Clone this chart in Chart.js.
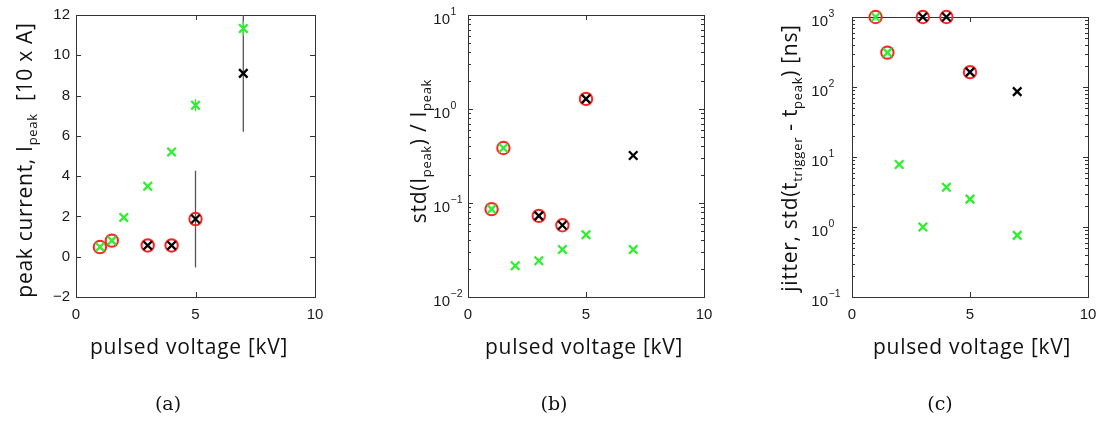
<!DOCTYPE html>
<html lang="en">
<head>
<meta charset="UTF-8">
<title>Peak current, spread and jitter vs pulsed voltage</title>
<script src="https://cdn.jsdelivr.net/npm/chart.js"></script>
<style>
  body { margin: 0; background: #fff; width: 1107px; height: 424px; overflow: hidden; position: relative; }
  canvas { position: absolute; top: 0; }
</style>
</head>
<body>
<canvas id="chartA" width="370" height="424" style="left:0"></canvas>
<canvas id="chartB" width="370" height="424" style="left:370px"></canvas>
<canvas id="chartC" width="367" height="424" style="left:740px"></canvas>

<script>
// ---- data ----
const voltage = [1, 1.5, 2, 3, 4, 5, 7];        // green series, all voltages
const blackVoltage = [3, 4, 5, 7];               // black series
const circleVoltage = [1, 1.5, 3, 4, 5];         // red-circled points

// (a) peak current [10 x A]
const peakGreen = [0.48, 0.8, 1.95, 3.5, 5.2, 7.52, 11.33];
const peakGreenErr = [0, 0, 0, 0, 0, 0.3, 0.35];
const peakBlack = [0.56, 0.56, 1.87, 9.1];
const peakBlackErr = [0, 0, 2.4, 2.9];
const peakCircle = [0.48, 0.8, 0.56, 0.56, 1.87];

// (b) std(Ipeak)/Ipeak
const spreadGreen = [0.086, 0.385, 0.0215, 0.0243, 0.032, 0.046, 0.032];
const spreadBlack = [0.073, 0.058, 1.28, 0.32];
const spreadCircle = [0.086, 0.385, 0.073, 0.058, 1.28];

// (c) jitter [ns]
const jitterGreen = [1000, 310, 7.8, 1.0, 3.7, 2.5, 0.76];
const jitterBlack = [1000, 1000, 163, 86];
const jitterCircle = [1000, 310, 1000, 1000, 163];

// ticks
const voltageTicks = [0, 5, 10];
const peakTicks = [-2, 0, 2, 4, 6, 8, 10, 12];
const spreadDecades = [0.01, 0.1, 1, 10];
const jitterDecades = [0.1, 1, 10, 100, 1000];

const GREEN = '#2bf02b';
const RED = '#ff2222';
const TITLE_FONT = '21px "Open Sans"';
const SUB_FONT = '13px "Open Sans"';
const TICK_FAMILY = 'Liberation Sans';

function pts(xs, ys) { return xs.map((x, i) => ({ x: x, y: ys[i] })); }

function errorBars(xs, ys, errs, color) {
  const out = [];
  xs.forEach((x, i) => {
    if (!errs[i]) return;
    out.push({
      type: 'line',
      data: [{ x: x, y: ys[i] - errs[i] }, { x: x, y: ys[i] + errs[i] }],
      borderColor: color, borderWidth: 1.3, pointRadius: 0, showLine: true
    });
  });
  return out;
}

function markerSets(gy, by, cy) {
  return [
    { data: pts(voltage, gy), pointStyle: 'crossRot', pointRadius: 6, pointBorderWidth: 2.3,
      pointBorderColor: GREEN, pointBackgroundColor: GREEN, clip: false },
    { data: pts(blackVoltage, by), pointStyle: 'crossRot', pointRadius: 6, pointBorderWidth: 2.3,
      pointBorderColor: '#000', pointBackgroundColor: '#000', clip: false },
    { data: pts(circleVoltage, cy), pointStyle: 'circle', pointRadius: 6.2, pointBorderWidth: 2,
      pointBorderColor: RED, pointBackgroundColor: 'rgba(0,0,0,0)', clip: false }
  ];
}

function logTicks(decades) {
  const t = [];
  decades.forEach((d, i) => {
    const last = i === decades.length - 1;
    for (let k = 1; k <= (last ? 1 : 9); k++) t.push({ value: +(k * d).toPrecision(3) });
  });
  return t;
}

function exponentOf(v) {
  const e = Math.log10(v);
  return Math.abs(e - Math.round(e)) < 1e-6 ? Math.round(e) : null;
}

// frame with inward ticks on all four sides, plus "10^n" labels for log axes
const frame = {
  id: 'frame',
  beforeDatasetsDraw(chart, args, o) {
    const { ctx, chartArea: a, scales } = chart;
    ctx.save();
    ctx.strokeStyle = '#333';
    ctx.lineWidth = 1;
    ctx.strokeRect(Math.round(a.left) + 0.5, Math.round(a.top) + 0.5,
      Math.round(a.right - a.left), Math.round(a.bottom - a.top));
    ctx.beginPath();
    scales.x.ticks.forEach(t => {
      const px = Math.round(scales.x.getPixelForValue(t.value)) + 0.5;
      ctx.moveTo(px, a.bottom); ctx.lineTo(px, a.bottom - 5);
      ctx.moveTo(px, a.top); ctx.lineTo(px, a.top + 5);
    });
    const isLog = scales.y.type === 'logarithmic';
    scales.y.ticks.forEach(t => {
      const py = Math.round(scales.y.getPixelForValue(t.value)) + 0.5;
      const len = (!isLog || exponentOf(t.value) !== null) ? 5 : 3;
      ctx.moveTo(a.left, py); ctx.lineTo(a.left + len, py);
      ctx.moveTo(a.right, py); ctx.lineTo(a.right - len, py);
    });
    ctx.stroke();

    if (isLog) {
      ctx.fillStyle = '#1a1a1a';
      ctx.textBaseline = 'alphabetic';
      scales.y.ticks.forEach(t => {
        const e = exponentOf(t.value);
        if (e === null) return;
        const py = scales.y.getPixelForValue(t.value);
        const xr = a.left - o.logGap;
        ctx.font = '15px "' + TICK_FAMILY + '"';
        ctx.textAlign = 'right';
        ctx.fillText('10', xr, py + 9);
        ctx.font = '10.5px "' + TICK_FAMILY + '"';
        ctx.textAlign = 'left';
        ctx.fillText(String(e).replace('-', '\u2212'), xr + 0.5, py);
      });
    }
    ctx.restore();
  }
};

function drawRich(ctx, parts, x, y, rotate) {
  ctx.save();
  ctx.translate(x, y);
  if (rotate) ctx.rotate(-Math.PI / 2);
  ctx.letterSpacing = '0.7px';
  let total = 0;
  const w = parts.map(p => { ctx.font = p.sub ? SUB_FONT : TITLE_FONT; const m = ctx.measureText(p.t).width; total += m; return m; });
  let cx = -total / 2;
  ctx.fillStyle = '#111';
  ctx.textBaseline = 'alphabetic';
  parts.forEach((p, i) => {
    ctx.font = p.sub ? SUB_FONT : TITLE_FONT;
    ctx.fillText(p.t, cx, p.sub ? 5 : 0);
    cx += w[i];
  });
  ctx.restore();
}

const labels = {
  id: 'labels',
  afterDraw(chart, args, o) {
    const ctx = chart.ctx;
    drawRich(ctx, o.ytitle, o.yx, o.yy, true);
    drawRich(ctx, [{ t: 'pulsed voltage [kV]' }], o.xx, 354, false);
    ctx.save();
    ctx.font = '19px "DejaVu Serif"';
    ctx.fillStyle = '#111';
    ctx.textAlign = 'center';
    ctx.textBaseline = 'middle';
    ctx.fillText(o.caption, o.cx, 405);
    ctx.restore();
  }
};

function makeChart(id, cfg) {
  const tickFont = { family: TICK_FAMILY, size: 15 };
  const yScale = cfg.log ? {
    type: 'logarithmic', min: cfg.ymin, max: cfg.ymax,
    afterBuildTicks: s => { s.ticks = logTicks(cfg.decades); },
    ticks: { display: false, autoSkip: false }
  } : {
    type: 'linear', min: cfg.ymin, max: cfg.ymax,
    afterBuildTicks: s => { s.ticks = cfg.yticks.map(v => ({ value: v })); },
    ticks: { autoSkip: false, font: tickFont, color: '#1a1a1a', padding: cfg.ypad,
      callback: v => String(v).replace('-', '\u2212') }
  };
  yScale.grid = { display: false, drawTicks: false };
  yScale.border = { display: false };
  yScale.afterFit = s => { s.width = cfg.left; };

  return new Chart(document.getElementById(id), {
    type: 'scatter',
    data: { datasets: cfg.datasets },
    plugins: [frame, labels],
    options: {
      responsive: false, animation: false, events: [], devicePixelRatio: 1,
      layout: { padding: { left: 0, top: cfg.top, right: cfg.right, bottom: 424 - 297 - 40 } },
      plugins: {
        legend: { display: false }, tooltip: { enabled: false },
        labels: cfg.labels, frame: { logGap: cfg.logGap || 0 }
      },
      scales: {
        x: {
          type: 'linear', min: 0, max: 10,
          afterBuildTicks: s => { s.ticks = voltageTicks.map(v => ({ value: v })); },
          afterFit: s => { s.height = 40; },
          grid: { display: false, drawTicks: false }, border: { display: false },
          ticks: { autoSkip: false, maxRotation: 0, font: tickFont, color: '#1a1a1a', padding: 9 }
        },
        y: yScale
      }
    }
  });
}

makeChart('chartA', {
  left: 76, right: 55, top: 12, ymin: -2, ymax: 12, yticks: peakTicks, ypad: 6,
  datasets: markerSets(peakGreen, peakBlack, peakCircle)
    .concat(errorBars(voltage, peakGreen, peakGreenErr, GREEN))
    .concat(errorBars(blackVoltage, peakBlack, peakBlackErr, '#555')),
  labels: {
    ytitle: [{ t: 'peak current, I' }, { t: 'peak', sub: true }, { t: '  [10 x A]' }],
    yx: 32, yy: 160, xx: 189, cx: 168, caption: '(a)'
  }
});

makeChart('chartB', {
  log: true, left: 98, right: 36, top: 15, ymin: 0.01, ymax: 10, decades: spreadDecades, logGap: 18,
  datasets: markerSets(spreadGreen, spreadBlack, spreadCircle),
  labels: {
    ytitle: [{ t: 'std(I' }, { t: 'peak', sub: true }, { t: ') / I' }, { t: 'peak', sub: true }],
    yx: 56, yy: 151, xx: 214, cx: 184, caption: '(b)'
  }
});

makeChart('chartC', {
  log: true, left: 112, right: 19, top: 17, ymin: 0.1, ymax: 1000, decades: jitterDecades, logGap: 24,
  datasets: markerSets(jitterGreen, jitterBlack, jitterCircle),
  labels: {
    ytitle: [{ t: 'jitter, std(t' }, { t: 'trigger', sub: true }, { t: ' - t' }, { t: 'peak', sub: true }, { t: ') [ns]' }],
    yx: 57, yy: 158, xx: 232, cx: 200, caption: '(c)'
  }
});
</script>
</body>
</html>
